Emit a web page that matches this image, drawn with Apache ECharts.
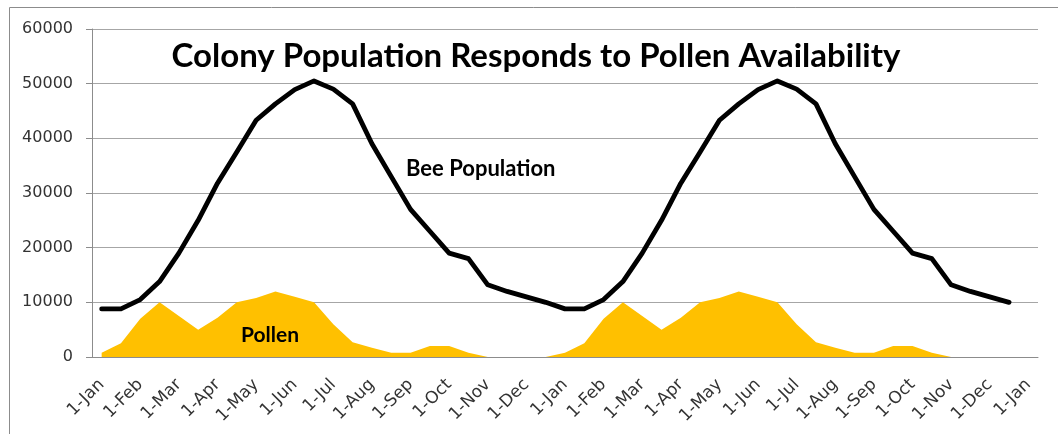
<!DOCTYPE html>
<html>
<head>
<meta charset="utf-8">
<script src="https://cdn.jsdelivr.net/npm/echarts@6/dist/echarts.min.js"></script>
<style>
  html, body { margin: 0; padding: 0; background: #ffffff; }
  #chart { width: 1058px; height: 434px; }
</style>
</head>
<body>
<div id="chart"></div>
<script>
// Half-monthly sample dates over two years, plus the closing 1-Jan
const months = ['Jan', 'Feb', 'Mar', 'Apr', 'May', 'Jun', 'Jul', 'Aug', 'Sep', 'Oct', 'Nov', 'Dec'];
const categories = [];
for (let y = 0; y < 2; y++) {
  months.forEach(m => { categories.push('1-' + m); categories.push('15-' + m); });
}
categories.push('1-Jan');

// Bee population, year one then year two (half-monthly)
const beeYear1 = [8800, 8800, 10500, 13800, 19000, 25000, 31800, 37500, 43300, 46300, 48900, 50500,
                  49000, 46300, 39000, 33000, 27000, 23000, 19000, 18000, 13200, 12000, 11000, 10000];
const beeYear2 = [8800, 8800, 10500, 13800, 19000, 25000, 31800, 37500, 43300, 46300, 48900, 50500,
                  49000, 46300, 39000, 33000, 27000, 23000, 19000, 18000, 13200, 12000, 11000, 10000];

// Pollen availability, year one then year two
const pollenYear1 = [800, 2500, 7000, 10000, 7500, 5000, 7200, 10000, 10800, 12000, 11000, 10000,
                     6000, 2700, 1700, 800, 800, 2000, 2000, 800, 0, 0, 0, 0];
const pollenYear2 = [800, 2500, 7000, 10000, 7500, 5000, 7200, 10000, 10800, 12000, 11000, 10000,
                     6000, 2700, 1700, 800, 800, 2000, 2000, 800, 0, 0, 0, 0];

const yTicks = { min: 0, max: 60000, interval: 10000 };

const beeSeries = beeYear1.concat(beeYear2);
const pollenSeries = pollenYear1.concat(pollenYear2);

const chart = echarts.init(document.getElementById('chart'), null, { renderer: 'canvas' });

const labelFont = 'DejaVu Sans';
const boldFont = 'Lato';

chart.setOption({
  animation: false,
  backgroundColor: '#ffffff',
  title: {
    text: 'Colony Population Responds to Pollen Availability',
    left: 531,
    top: 35,
    textAlign: 'center',
    textStyle: { fontFamily: boldFont, fontWeight: 'bold', fontSize: 33, color: '#000000' }
  },
  grid: { left: 92, right: 20, top: 29, bottom: 77 },
  xAxis: {
    type: 'category',
    data: categories,
    boundaryGap: true,
    axisLine: { lineStyle: { color: '#8c8c8c', width: 1 } },
    axisTick: { interval: 0, length: 6, lineStyle: { color: '#8c8c8c' } },
    axisLabel: {
      interval: 1,
      rotate: 45,
      margin: 25,
      fontFamily: labelFont,
      fontSize: 17,
      color: '#333333'
    },
    splitLine: { show: false }
  },
  yAxis: {
    type: 'value',
    min: yTicks.min,
    max: yTicks.max,
    interval: yTicks.interval,
    axisLine: { show: true, lineStyle: { color: '#8c8c8c' } },
    axisTick: { show: true, length: 6, lineStyle: { color: '#8c8c8c' } },
    axisLabel: {
      margin: 19,
      fontFamily: labelFont,
      fontSize: 16,
      color: '#333333',
      formatter: v => String(v)
    },
    splitLine: { lineStyle: { color: '#a6a6a6', width: 1 } }
  },
  series: [
    {
      name: 'Pollen',
      type: 'line',
      data: pollenSeries,
      symbol: 'none',
      lineStyle: { width: 0 },
      areaStyle: { color: '#FFC000', opacity: 1 },
      itemStyle: { color: '#FFC000' },
      z: 2
    },
    {
      name: 'Bee Population',
      type: 'line',
      data: beeSeries,
      symbol: 'none',
      lineStyle: { color: '#000000', width: 4.8, join: 'round', cap: 'round' },
      itemStyle: { color: '#000000' },
      z: 3
    }
  ],
  graphic: [
    {
      type: 'polyline',
      shape: { points: [[9.5, 434], [9.5, 7.5], [1058, 7.5]] },
      style: { stroke: '#8c8c8c', lineWidth: 1, fill: null },
      silent: true
    },
    {
      type: 'text',
      left: 406,
      top: 158,
      style: { text: 'Bee Population', font: 'bold 22px ' + boldFont, fill: '#000000' }
    },
    {
      type: 'text',
      left: 241,
      top: 325,
      style: { text: 'Pollen', font: 'bold 21px ' + boldFont, fill: '#000000' },
      z: 10
    }
  ]
});
</script>
</body>
</html>
